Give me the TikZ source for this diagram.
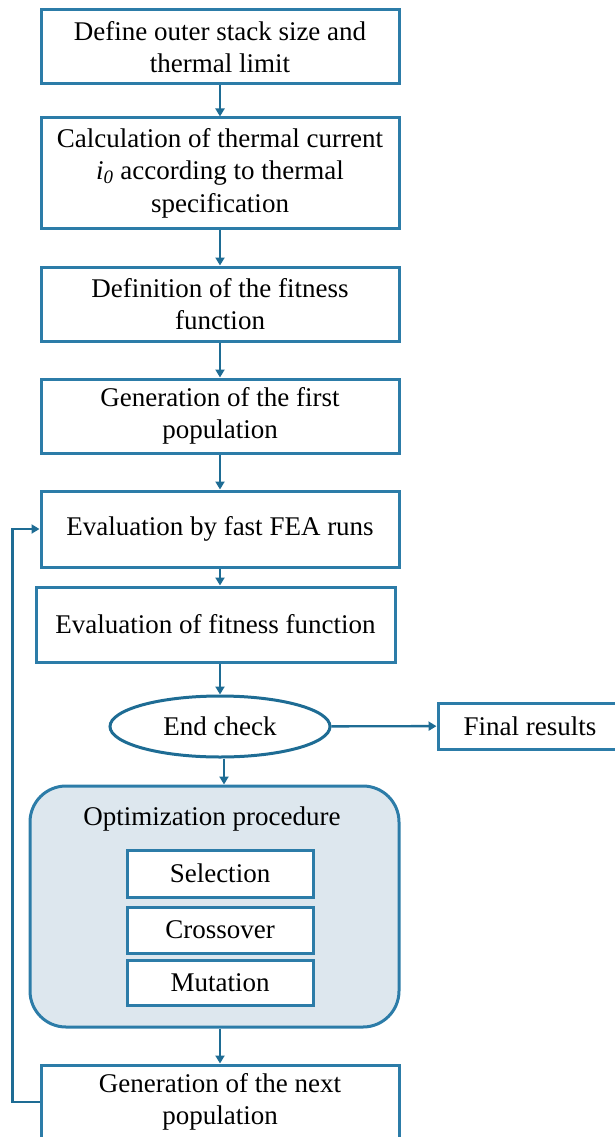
\documentclass[tikz,border=0pt]{standalone}
\usepackage{fontspec}
\setmainfont{Liberation Serif}
\usetikzlibrary{arrows.meta,shapes.geometric}
\definecolor{lineblue}{RGB}{44,124,168}
\definecolor{arrowblue}{RGB}{30,108,148}
\definecolor{optfill}{RGB}{221,231,238}
\begin{document}
\begin{tikzpicture}[x=1pt,y=-1pt,
  font=\fontsize{27}{32.5}\selectfont,
  box/.style={draw=lineblue,line width=3pt,fill=white,align=center,inner sep=0pt,minimum width=358pt},
  smallbox/.style={draw=lineblue,line width=3pt,fill=white,align=center,inner sep=0pt,minimum width=186pt},
  arr/.style={draw=arrowblue,line width=2.4pt,-{Triangle[length=8pt,width=9pt]}}]
\useasboundingbox (0,0) rectangle (614,1137);
\node[box,minimum height=74pt] (b1) at (220,47) {Define outer stack size and\\thermal limit};
\node[box,minimum height=110pt] (b2) at (220,173) {Calculation of thermal current\\{\itshape i\textsubscript{0}} according to thermal\\specification};
\node[box,minimum height=74pt] (b3) at (220,304) {Definition of the fitness\\function};
\node[box,minimum height=74pt] (b4) at (220,416) {Generation of the first\\population};
\node[box,minimum height=76pt] (b5) at (220,529) {Evaluation by fast FEA runs};
\node[box,minimum width=359pt,minimum height=75pt] (b6) at (215.5,624.5) {Evaluation of fitness function};
\node[draw=arrowblue,line width=3pt,ellipse,fill=white,inner sep=0pt,minimum width=220pt,minimum height=61pt] (end) at (220,726.5) {End check};
\node[box,minimum width=184pt,minimum height=46pt] (fin) at (530,726) {Final results};
\node[draw=lineblue,line width=3pt,fill=optfill,rounded corners=36pt,minimum width=369pt,minimum height=241pt,inner sep=0pt] (opt) at (214.5,906.5) {};
\node (optt) at (212,819) {Optimization procedure};
\node[smallbox,minimum height=47pt] (sel) at (220,873.5) {Selection};
\node[smallbox,minimum height=46pt] (cro) at (220,930) {Crossover};
\node[smallbox,minimum height=45pt] (mut) at (220,982.5) {Mutation};
\node[box,minimum height=74pt] (bot) at (220,1102) {Generation of the next\\population};
\draw[arr] (b1) -- (b2);
\draw[arr] (b2) -- (b3);
\draw[arr] (b3) -- (b4);
\draw[arr] (b4) -- (b5);
\draw[arr] (b5) -- (b5 |- b6.north);
\draw[arr] (b5 |- b6.south) -- (end);
\draw[arr] (end) -- (fin);
\draw[arr] ([xshift=4pt]end.south) -- ([xshift=4pt]end.south |- opt.north);
\draw[arr] (bot |- opt.south) -- (bot);
\draw[arr] (bot.west) -- ++(-27,0) |- (b5.west);
\end{tikzpicture}
\end{document}
